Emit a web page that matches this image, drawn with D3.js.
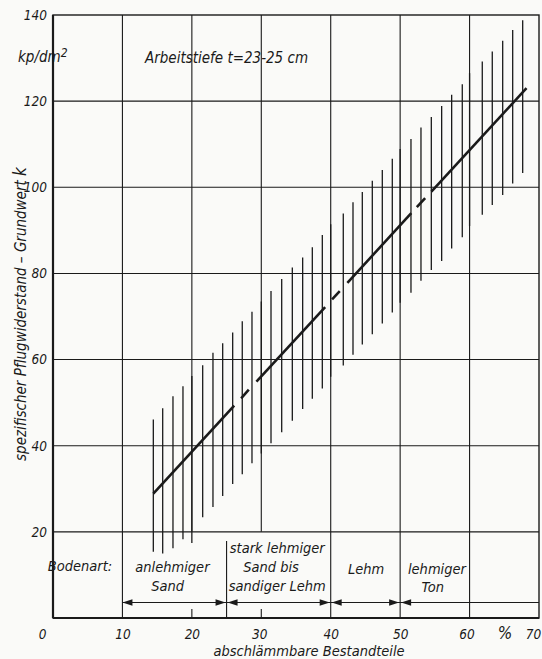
<!DOCTYPE html>
<html><head><meta charset="utf-8">
<script src="https://cdn.jsdelivr.net/npm/d3@7"></script>
<style>
html,body{margin:0;padding:0;background:#fafaf8;}
svg{display:block;}
text{font-family:"DejaVu Sans Condensed","DejaVu Sans",sans-serif;font-style:oblique;fill:#1a1a1a;}
</style></head>
<body>
<script>
// ---- data ----
const barX   = [14.45,15.80,17.28,18.72,20.0,21.56,23.04,24.44,25.88,27.26,28.66,30.0,31.40,32.94,34.47,35.96,37.35,38.79,40.0,41.81,43.21,44.55,45.99,47.43,48.87,50.0,51.56,53.0,54.49,55.98,57.42,58.95,60.0,61.83,63.27,64.77,66.21,67.65];
const barTop = [46.1,48.7,51.5,53.8,56.2,58.7,61.6,63.8,66.3,68.9,71.1,73.5,75.9,78.7,81.4,83.7,86.1,88.9,91.4,93.9,96.5,98.9,101.5,104.0,106.6,108.9,111.2,113.9,116.3,118.9,121.5,123.9,126.5,129.2,131.5,134.0,136.5,138.8];
const barBot = [15.4,15.0,16.2,18.3,17.4,23.4,25.8,28.3,31.1,33.4,35.9,38.2,40.6,43.1,45.8,48.5,50.9,53.3,56.0,58.6,61.1,63.5,65.9,68.4,70.9,73.2,75.5,78.3,80.8,82.9,85.8,88.4,91.0,93.6,95.9,98.2,100.9,103.3];
// regression line drawn in pieces (x1,y1,x2,y2)
const lineSegX1 = [14.45,27.1,29.3,40.2,42.4,52.4,54.5];
const lineSegY1 = [28.9,51.0,54.9,74.0,77.8,95.4,99.0];
const lineSegX2 = [26.1,28.2,39.2,41.3,51.6,53.6,68.2];
const lineSegY2 = [49.3,53.0,72.2,75.9,94.0,97.5,123.0];
const xTicks = [0,10,20,30,40,50,60,70];
const yTicks = [20,40,60,80,100,120,140];
const soilLabels = [["anlehmiger","Sand"],["stark lehmiger","Sand bis","sandiger Lehm"],["Lehm"],["lehmiger","Ton"]];
const soilCenters = [[17.2,16.5],[32.3,31.4,32.3],[45.1],[55.3,54.7]];

// ---- layout ----
const W=542,H=659;
const x=d3.scaleLinear().domain([0,70]).range([53,539]);
const y=d3.scaleLinear().domain([0,140]).range([618,15]);
const svg=d3.select("body").append("svg").attr("width",W).attr("height",H);
const ink="#1a1a1a";

// grid
const g=svg.append("g").attr("stroke",ink).attr("stroke-width",1.1);
[20,40,60,80,100,120].forEach(v=>g.append("line").attr("x1",x(0)).attr("x2",x(70)).attr("y1",y(v)).attr("y2",y(v)));
[10,40,50,60].forEach(v=>g.append("line").attr("x1",x(v)).attr("x2",x(v)).attr("y1",y(0)).attr("y2",y(140)));
[20,30].forEach(v=>{
  g.append("line").attr("x1",x(v)).attr("x2",x(v)).attr("y1",y(20)).attr("y2",y(140));
  g.append("line").attr("x1",x(v)).attr("x2",x(v)).attr("y1",y(0)).attr("y2",y(0)-9);
});
// boundary at 25
g.append("line").attr("x1",x(25)).attr("x2",x(25)).attr("y1",y(17.9)).attr("y2",y(0));
// frame
svg.append("rect").attr("x",x(0)).attr("y",y(140)).attr("width",x(70)-x(0)).attr("height",y(0)-y(140))
  .attr("fill","none").attr("stroke",ink).attr("stroke-width",1.4);
svg.append("line").attr("x1",x(0)).attr("x2",x(0)).attr("y1",y(0)).attr("y2",y(140)).attr("stroke",ink).attr("stroke-width",2.2);
svg.append("line").attr("x1",x(0)).attr("x2",x(70)).attr("y1",y(0)).attr("y2",y(0)).attr("stroke",ink).attr("stroke-width",2.2);

// bars
svg.append("g").selectAll("line").data(barX).join("line")
  .attr("x1",d=>x(d)).attr("x2",d=>x(d))
  .attr("y1",(d,i)=>y(barTop[i])).attr("y2",(d,i)=>y(barBot[i]))
  .attr("stroke",ink).attr("stroke-width",1.3);

// regression line
svg.append("g").selectAll("line").data(lineSegX1).join("line")
  .attr("x1",d=>x(d)).attr("y1",(d,i)=>y(lineSegY1[i]))
  .attr("x2",(d,i)=>x(lineSegX2[i])).attr("y2",(d,i)=>y(lineSegY2[i]))
  .attr("stroke",ink).attr("stroke-width",2.6).attr("stroke-linecap","butt");

// soil arrow line
const ay=602.5;
svg.append("line").attr("x1",x(10)).attr("x2",x(70)).attr("y1",ay).attr("y2",ay).attr("stroke",ink).attr("stroke-width",1.1);
function arrow(xt,dir){ // dir -1 points left, +1 points right; tip at xt
  const L=10,hw=3.2;
  svg.append("path").attr("d",`M${xt},${ay} L${xt-dir*L},${ay-hw} L${xt-dir*L},${ay+hw} Z`).attr("fill",ink);
}
arrow(x(10),-1);
[25,40,50].forEach(v=>{arrow(x(v)-1,1);arrow(x(v)+1,-1);});

// soil labels
svg.append("text").attr("x",80).attr("y",571).attr("text-anchor","middle").attr("font-size",14.5).text("Bodenart:");
const soilBase=[[572,591],[553,572,591],[574],[574,592]];
soilLabels.forEach((lines,i)=>{
  lines.forEach((t,j)=>svg.append("text").attr("x",x(soilCenters[i][j])).attr("y",soilBase[i][j])
    .attr("text-anchor","middle").attr("font-size",14.5).text(t));
});

// y axis
const ya=svg.append("g").attr("transform",`translate(${x(0)-3},0)`)
  .call(d3.axisLeft(y).tickValues(yTicks).tickSize(0).tickFormat(d3.format("d")));
ya.select(".domain").remove();
ya.attr("font-family",null);
ya.selectAll("text").attr("font-size",13.5).attr("fill",ink);

// x axis
const xa=svg.append("g").attr("transform",`translate(0,${y(0)+8})`)
  .call(d3.axisBottom(x).tickValues(xTicks).tickSize(0).tickFormat(d3.format("d")));
xa.select(".domain").remove();
xa.attr("font-family",null);
const xOff={0:-11,30:-2,60:-3,70:-6};
xa.selectAll("text").attr("font-size",13.5).attr("fill",ink).attr("dx",d=>xOff[d]||0);
svg.append("text").attr("x",505).attr("y",639).attr("text-anchor","middle").attr("font-size",17).text("%");

// titles
svg.append("text").attr("x",309).attr("y",656).attr("text-anchor","middle").attr("font-size",14.5).text("abschlämmbare Bestandteile");
svg.append("text").attr("x",145).attr("y",63).attr("font-size",15).text("Arbeitstiefe t=23-25 cm");
const kp=svg.append("text").attr("x",18).attr("y",62).attr("font-size",15);
kp.append("tspan").text("kp/dm");
kp.append("tspan").attr("dy",-5).attr("font-size",12).text("2");
const yl=svg.append("text").attr("transform","translate(26,314) rotate(-90)").attr("text-anchor","middle").attr("font-size",15);
yl.append("tspan").text("spezifischer Pflugwiderstand – Grundwert ");
yl.append("tspan").attr("font-size",17).text("k");
</script>
</body></html>
